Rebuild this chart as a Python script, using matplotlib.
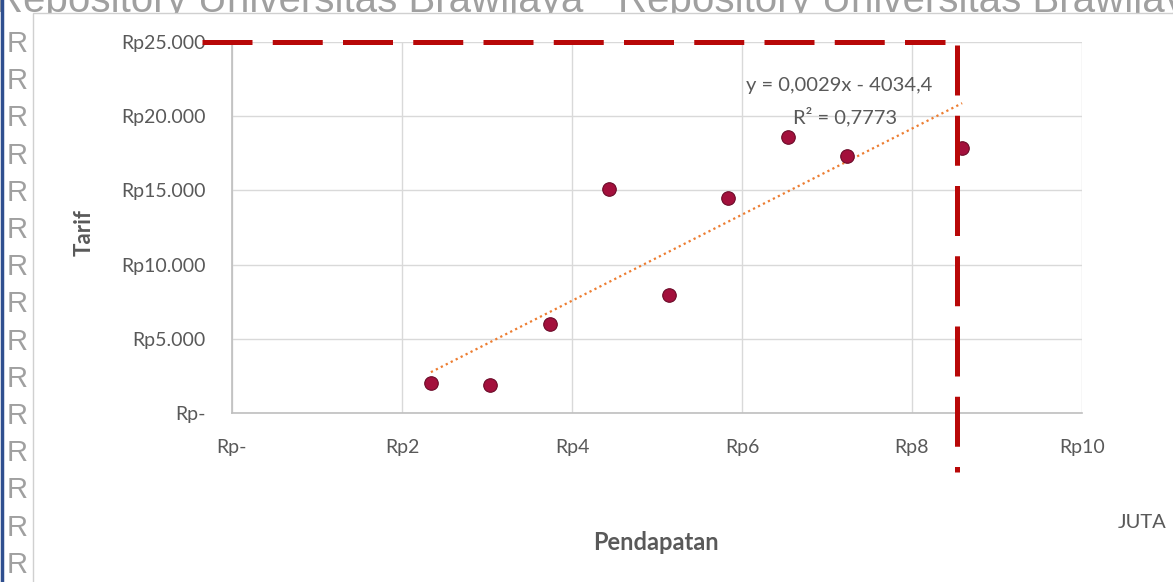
import numpy as np
import matplotlib
matplotlib.use('Agg')
import matplotlib.pyplot as plt
from matplotlib.lines import Line2D
from matplotlib.patches import Rectangle

plt.rcParams['font.family'] = ['Lato', 'DejaVu Sans']

# pendapatan (juta rupiah) vs tarif (rupiah)
pendapatan = [2.34, 3.04, 3.74, 4.44, 5.14, 5.84, 6.54, 7.24, 8.59]
tarif = [2050, 1900, 6000, 15100, 7950, 14500, 18600, 17300, 17850]

# trendline as printed on the chart
slope = 0.0029
intercept = -4034.4
r_squared = 0.7773

x_ticks = [0, 2, 4, 6, 8, 10]
x_labels = ['Rp-', 'Rp2', 'Rp4', 'Rp6', 'Rp8', 'Rp10']
y_ticks = [0, 5000, 10000, 15000, 20000, 25000]
y_labels = ['Rp-', 'Rp5.000', 'Rp10.000', 'Rp15.000', 'Rp20.000', 'Rp25.000']

# red reference lines
ref_tarif = 25000
ref_pendapatan = 8.53

W, H = 1173, 582
fig = plt.figure(figsize=(W / 100, H / 100), dpi=100)
fig.patch.set_facecolor('white')

# repository watermark behind the chart area
wm = '#a0a0a0'
for x0 in [-6, 618]:
    fig.text(x0 / W, 1 - 12 / H, 'Repository Universitas Brawijaya', fontsize=29,
             color=wm, family='Liberation Sans', va='baseline', ha='left', zorder=0)
for k in range(15):
    fig.text(7 / W, 1 - (44 + 37.2 * k) / H, 'R', fontsize=21, color=wm,
             family='Liberation Sans', va='center', ha='left', zorder=0)

# chart area box
fig.patches.append(Rectangle((33 / W, -0.1), 1.2, 1 - 13 / H + 0.1,
                             transform=fig.transFigure, facecolor='white',
                             edgecolor='#d0d0d0', linewidth=1, zorder=1))
fig.lines.append(Line2D([1.5 / W, 1.5 / W], [0, 1], transform=fig.transFigure,
                        color='#2f4f8f', linewidth=2.5, zorder=2))

ax = fig.add_axes([232 / W, 1 - 413 / H, 850 / W, 371 / H])
ax.set_zorder(3)
ax.set_facecolor('none')
ax.set_xlim(0, 10)
ax.set_ylim(0, 25000)

ax.set_xticks(x_ticks)
ax.set_xticklabels(x_labels)
ax.set_yticks(y_ticks)
ax.set_yticklabels(y_labels)
ax.tick_params(length=0, labelsize=14, labelcolor='#595959')
ax.tick_params(axis='x', pad=19)
ax.tick_params(axis='y', pad=19)
ax.grid(True, color='#d9d9d9', linewidth=1)
ax.set_axisbelow(True)
for side in ['top', 'right']:
    ax.spines[side].set_visible(False)
for side in ['left', 'bottom']:
    ax.spines[side].set_color('#bfbfbf')
    ax.spines[side].set_linewidth(1.2)

# trendline
xt = np.array([pendapatan[0], pendapatan[-1]])
yt = slope * xt * 1e6 + intercept
ax.plot(xt, yt, linestyle=(0, (1, 1.5)), color='#ed7d31', linewidth=1.6, zorder=3)

ax.scatter(pendapatan, tarif, s=95, color='#a3103c', edgecolors='#6b0a28',
           linewidths=0.8, zorder=4)

ax.text(7.14, 22050, f'y = {slope:.4f}x - {abs(intercept):.1f}'.replace('.', ','),
        fontsize=14.5, color='#595959', ha='center', va='center')
ax.text(7.21, 20000, f'R² = {r_squared:.4f}'.replace('.', ','), fontsize=14.5,
        color='#595959', ha='center', va='center')

# dashed red reference lines
ax.plot([-0.353, 8.39], [ref_tarif, ref_tarif], color='#b80808', linewidth=3.6,
        linestyle=(0, (10, 4.05)), clip_on=False, zorder=5)
ax.plot([ref_pendapatan, ref_pendapatan], [24800, -3980], color='#b80808',
        linewidth=3.6, linestyle=(0, (10, 4.05)), clip_on=False, zorder=5)

ax.set_ylabel('Tarif', fontsize=16, fontweight='bold', color='#595959')
ax.yaxis.set_label_coords(-137 / 850, (413 - 233) / 371)
fig.text(656 / W, 1 - 542 / H, 'Pendapatan', fontsize=17, fontweight='bold',
         color='#595959', ha='center', va='center')
fig.text(1118 / W, 1 - 522 / H, 'JUTA', fontsize=14.5, color='#595959',
         ha='left', va='center')

fig.savefig('out.png', dpi=100, facecolor='white')
